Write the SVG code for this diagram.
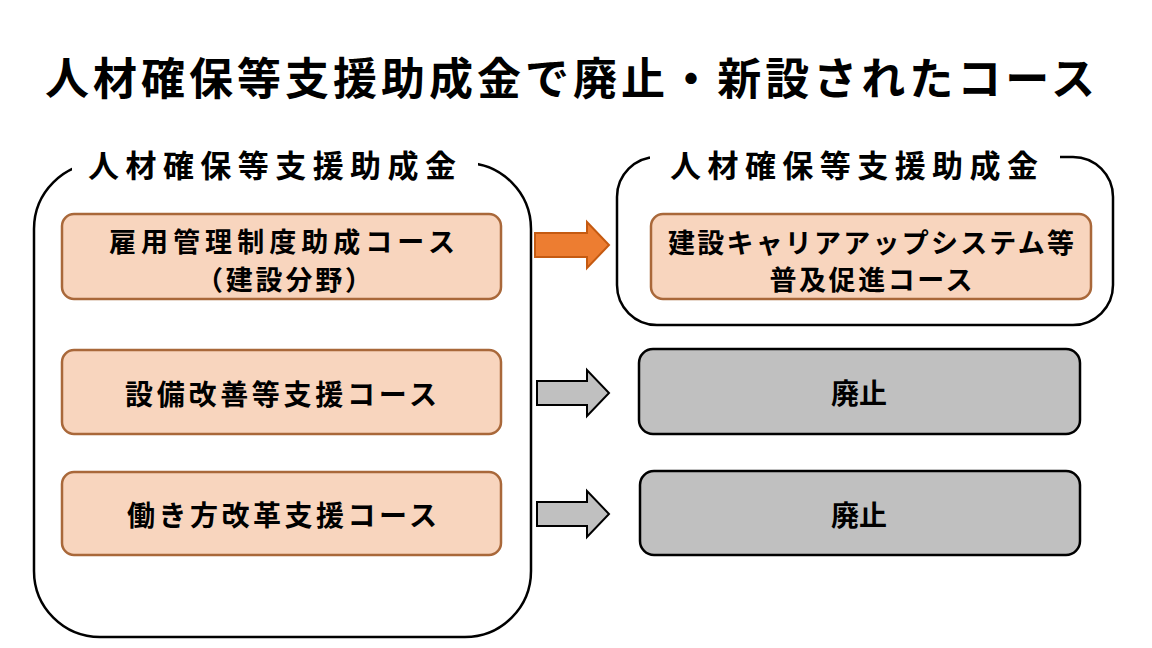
<svg xmlns="http://www.w3.org/2000/svg" width="1152" height="648" viewBox="0 0 1152 648">
<style>
text{font-family:"Noto Sans CJK JP","Noto Sans CJK SC",sans-serif;font-weight:bold;fill:#000;text-anchor:middle;dominant-baseline:central}
.group{fill:#fff;stroke:#000;stroke-width:2.5}
.course{fill:#F8D5BE;stroke:#A9683A;stroke-width:2.5}
.gone{fill:#C0C0C0;stroke:#000;stroke-width:2.5}
.t28{font-size:28px}
.t27{font-size:27px}
.t31{font-size:31px}
.garrow{fill:#C0C0C0;stroke:#000;stroke-width:2}
.oarrow{fill:#ED7D31;stroke:#C55A11;stroke-width:2}
</style>
<rect width="1152" height="648" fill="#fff"/>
<text x="570" y="76" style="font-size:44px" textLength="1050" lengthAdjust="spacing">人材確保等支援助成金で廃止・新設されたコース</text>

<g id="left-group">
<rect class="group" x="34" y="163" width="497" height="474" rx="66"/>
<rect x="72" y="145" width="406" height="36" fill="#fff"/>
<text class="t31" x="272" y="163" textLength="368" lengthAdjust="spacing">人材確保等支援助成金</text>
</g>

<g id="right-group">
<rect class="group" x="617" y="157" width="496" height="168" rx="40"/>
<rect x="650" y="140" width="410" height="36" fill="#fff"/>
<text class="t31" x="854" y="163" textLength="368" lengthAdjust="spacing">人材確保等支援助成金</text>
</g>

<g id="course-koyou">
<rect class="course" x="62" y="214" width="439" height="85" rx="12"/>
<text class="t27" x="282" y="240" textLength="346" lengthAdjust="spacing">雇用管理制度助成コース</text>
<text class="t27" x="284" y="278" textLength="176" lengthAdjust="spacing">（建設分野）</text>
</g>

<g id="course-setsubi">
<rect class="course" x="62" y="350" width="439" height="84" rx="12"/>
<text class="t28" x="281" y="393" textLength="312" lengthAdjust="spacing">設備改善等支援コース</text>
</g>

<g id="course-hataraki">
<rect class="course" x="62" y="472" width="439" height="83" rx="12"/>
<text class="t28" x="282" y="514" textLength="310" lengthAdjust="spacing">働き方改革支援コース</text>
</g>

<g id="course-ccus">
<rect class="course" x="651" y="214" width="440" height="85" rx="12"/>
<text class="t27" x="871" y="241" textLength="406" lengthAdjust="spacing">建設キャリアアップシステム等</text>
<text class="t27" x="871" y="278" textLength="203" lengthAdjust="spacing">普及促進コース</text>
</g>

<g id="haishi-1">
<rect class="gone" x="639" y="349" width="441" height="85" rx="14"/>
<text class="t28" x="859" y="392">廃止</text>
</g>

<g id="haishi-2">
<rect class="gone" x="640" y="471" width="440" height="84" rx="14"/>
<text class="t28" x="859" y="514">廃止</text>
</g>

<g id="connectors">
<path class="oarrow" d="M535,233 H587 V222 L609,245 L587,268 V257 H535 Z"/>
<path class="garrow" d="M537,381 H587 V370 L609,393 L587,416 V405 H537 Z"/>
<path class="garrow" d="M537,502 H587 V491 L609,514 L587,537 V526 H537 Z"/>
</g>
</svg>
